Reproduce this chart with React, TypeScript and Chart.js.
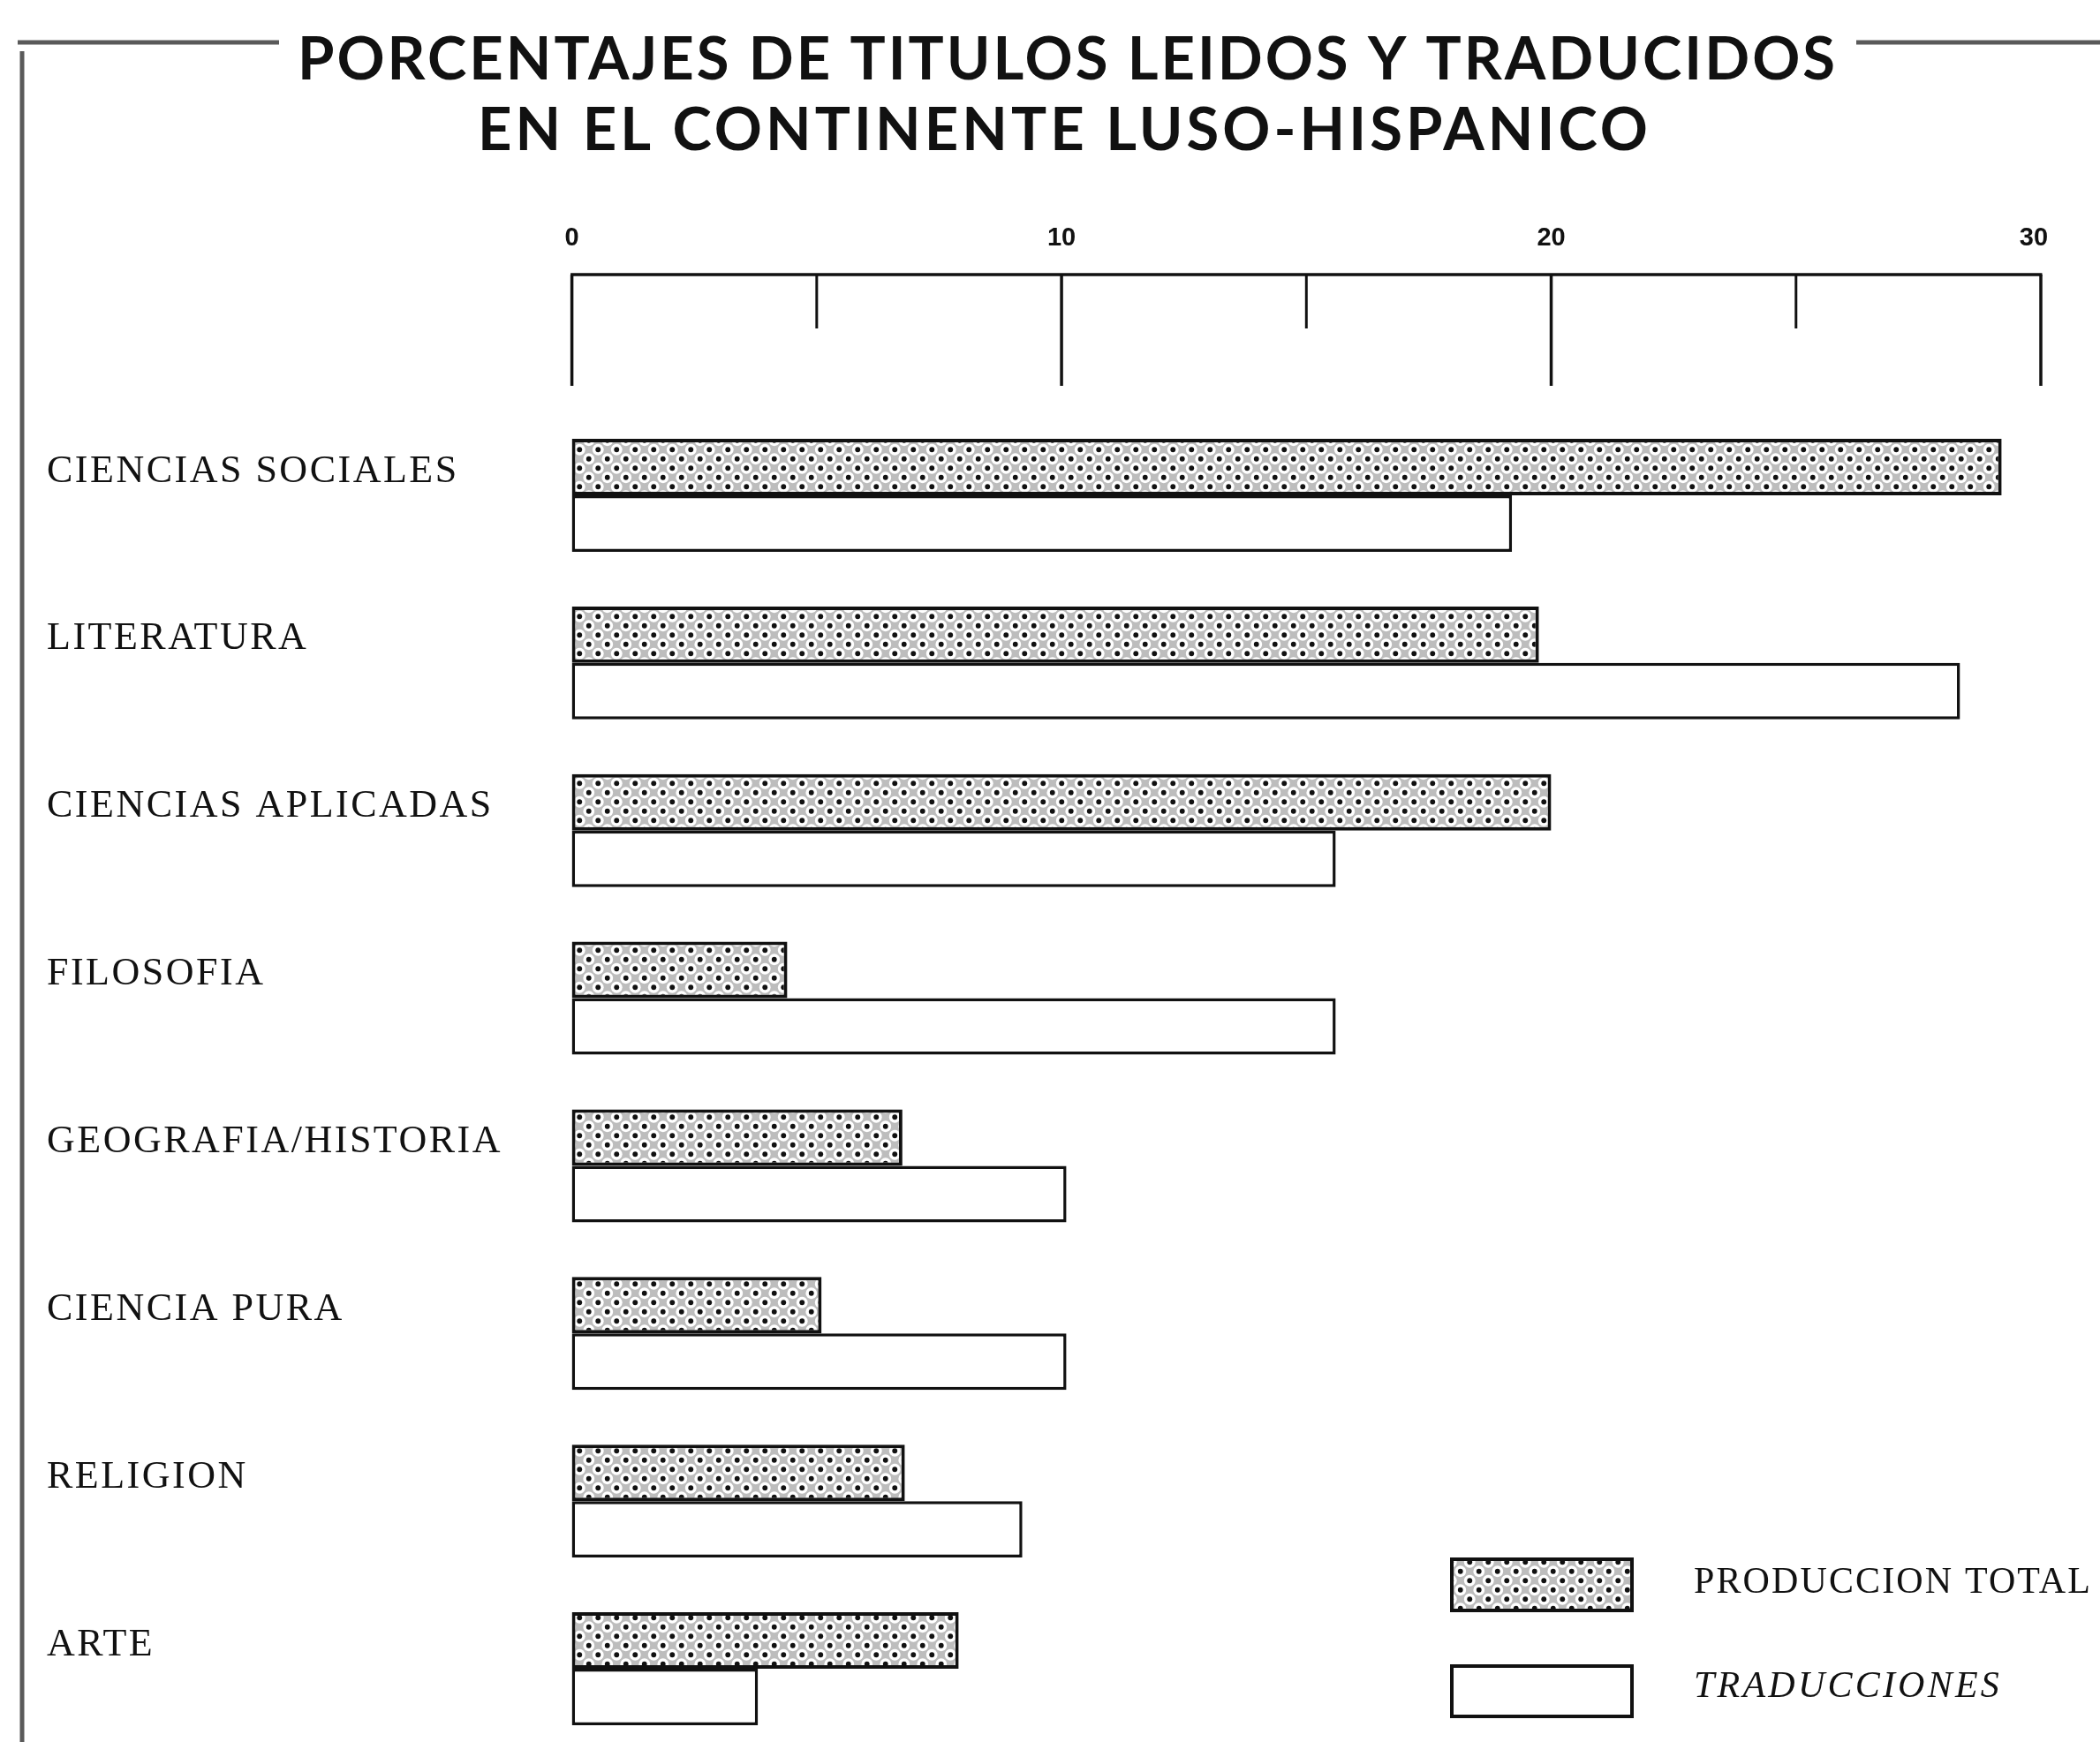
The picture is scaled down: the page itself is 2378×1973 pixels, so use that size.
import React, { useEffect, useRef } from 'react';
import { Chart, registerables } from 'chart.js';

Chart.register(...registerables);

const W = 2378;
const H = 1973;

const categories = [
  'CIENCIAS SOCIALES',
  'LITERATURA',
  'CIENCIAS APLICADAS',
  'FILOSOFIA',
  'GEOGRAFIA/HISTORIA',
  'CIENCIA PURA',
  'RELIGION',
  'ARTE',
];
const produccionTotal = [29.2, 19.75, 20.0, 4.4, 6.75, 5.1, 6.8, 7.9];
const traducciones = [19.2, 28.35, 15.6, 15.6, 10.1, 10.1, 9.2, 3.8];
const seriesLabels = ['PRODUCCION TOTAL', 'TRADUCCIONES'];
const majorTicks = [0, 10, 20, 30];
const minorTicks = [5, 15, 25];
const titleLines = [
  'PORCENTAJES DE TITULOS LEIDOS Y TRADUCIDOS',
  'EN EL CONTINENTE LUSO-HISPANICO',
];

function makeDotPattern(): CanvasPattern | string {
  const tile = document.createElement('canvas');
  tile.width = 21;
  tile.height = 21;
  const t = tile.getContext('2d');
  if (!t) return '#ccc';
  t.fillStyle = '#bdbdbd';
  t.fillRect(0, 0, 21, 21);
  const dots = [
    [5.25, 5.25],
    [15.75, 15.75],
    [15.75, -5.25],
    [-5.25, 15.75],
    [26.25, 5.25],
    [5.25, 26.25],
    [26.25, 26.25],
    [-5.25, -5.25],
    [15.75, 36.75],
  ];
  // white holes (offset grid) around the dots
  const holes = [
    [5.25, 5.25],
    [15.75, 15.75],
    [-5.25, -5.25],
    [26.25, 26.25],
    [26.25, 5.25],
    [5.25, 26.25],
    [-5.25, 15.75],
    [15.75, -5.25],
  ];
  t.fillStyle = '#ffffff';
  for (const [dx, dy] of holes) {
    t.beginPath();
    t.arc(dx, dy, 6.4, 0, Math.PI * 2);
    t.fill();
  }
  t.fillStyle = '#111111';
  for (const [dx, dy] of dots) {
    t.beginPath();
    t.arc(dx, dy, 2.9, 0, Math.PI * 2);
    t.fill();
  }
  const p = t.createPattern(tile, 'repeat');
  return p || '#ccc';
}

function fitText(ctx: CanvasRenderingContext2D, text: string, font: string, target: number) {
  ctx.font = font;
  (ctx as any).letterSpacing = '0px';
  const w0 = ctx.measureText(text).width;
  const ls = (target - w0) / Math.max(1, text.length);
  (ctx as any).letterSpacing = ls + 'px';
}

const decorPlugin = {
  id: 'decor',
  beforeDraw(chart: any) {
    const ctx = chart.ctx as CanvasRenderingContext2D;
    ctx.save();
    ctx.fillStyle = '#ffffff';
    ctx.fillRect(0, 0, chart.width, chart.height);
    ctx.restore();
    (ctx as any).letterSpacing = '2.5px';
  },
  afterDraw(chart: any) {
    const ctx = chart.ctx as CanvasRenderingContext2D;
    (ctx as any).letterSpacing = '0px';
    const xs = chart.scales.x;
    const axisY = 311;
    ctx.save();
    ctx.strokeStyle = '#111';
    ctx.lineWidth = 3.5;
    ctx.lineCap = 'butt';
    // axis line
    ctx.beginPath();
    ctx.moveTo(xs.getPixelForValue(majorTicks[0]) - 1.5, axisY);
    ctx.lineTo(xs.getPixelForValue(majorTicks[majorTicks.length - 1]) + 1.5, axisY);
    ctx.stroke();
    for (const v of majorTicks) {
      const px = xs.getPixelForValue(v);
      ctx.beginPath();
      ctx.moveTo(px, axisY);
      ctx.lineTo(px, 437);
      ctx.stroke();
    }
    ctx.lineWidth = 3;
    for (const v of minorTicks) {
      const px = xs.getPixelForValue(v);
      ctx.beginPath();
      ctx.moveTo(px, axisY);
      ctx.lineTo(px, 372);
      ctx.stroke();
    }
    ctx.fillStyle = '#111';
    ctx.font = 'bold 29px "Liberation Sans Narrow", "Liberation Sans"';
    ctx.textAlign = 'center';
    ctx.textBaseline = 'middle';
    for (const v of majorTicks) {
      ctx.fillText(String(v), xs.getPixelForValue(v) - (v === 30 ? 8 : 0), 270);
    }

    // title
    ctx.textAlign = 'left';
    ctx.textBaseline = 'alphabetic';
    const titleFont = 'bold 67px Lato';
    const t1L = 337, t1R = 2081, t2L = 541, t2R = 1870;
    fitText(ctx, titleLines[0], titleFont, t1R - t1L);
    ctx.fillText(titleLines[0], t1L, 90);
    fitText(ctx, titleLines[1], titleFont, t2R - t2L);
    ctx.fillText(titleLines[1], t2L, 170);
    (ctx as any).letterSpacing = '0px';

    // frame lines
    ctx.strokeStyle = '#5a5a5a';
    ctx.lineWidth = 5;
    ctx.beginPath();
    ctx.moveTo(20, 48);
    ctx.lineTo(316, 48);
    ctx.moveTo(2102, 48);
    ctx.lineTo(W, 48);
    ctx.moveTo(25, 58);
    ctx.lineTo(25, H);
    ctx.stroke();

    // legend
    const ds = chart.data.datasets;
    const boxes = [
      { y0: 1764, y1: 1826, ty: 1793, font: '42px "Liberation Serif"', w: 451 },
      { y0: 1885, y1: 1946, ty: 1911, font: 'italic 42px "Liberation Serif"', w: 349 },
    ];
    boxes.forEach((b, i) => {
      ctx.fillStyle = ds[i].backgroundColor;
      ctx.fillRect(1642, b.y0, 208, b.y1 - b.y0);
      ctx.strokeStyle = '#111';
      ctx.lineWidth = 4;
      ctx.strokeRect(1644, b.y0 + 2, 204, b.y1 - b.y0 - 4);
      ctx.fillStyle = '#111';
      ctx.textAlign = 'left';
      ctx.textBaseline = 'middle';
      fitText(ctx, ds[i].label, b.font, b.w);
      ctx.fillText(ds[i].label, 1918, b.ty);
    });
    (ctx as any).letterSpacing = '0px';
    ctx.restore();
  },
};

export default function App() {
  const canvasRef = useRef<HTMLCanvasElement | null>(null);

  useEffect(() => {
    const canvas = canvasRef.current;
    if (!canvas) return;
    const pattern = makeDotPattern();
    const chart = new Chart(canvas, {
      type: 'bar',
      data: {
        labels: categories,
        datasets: [
          {
            label: seriesLabels[0],
            data: produccionTotal,
            backgroundColor: pattern as any,
            borderColor: '#111',
            borderWidth: 4,
            borderSkipped: false,
            clip: false as any,
          },
          {
            label: seriesLabels[1],
            data: traducciones,
            backgroundColor: '#ffffff',
            borderColor: '#111',
            borderWidth: 3.5,
            borderSkipped: false,
            clip: false as any,
          },
        ],
      },
      options: {
        indexAxis: 'y',
        responsive: false,
        maintainAspectRatio: false,
        animation: false,
        devicePixelRatio: 1,
        categoryPercentage: 0.674,
        barPercentage: 1,
        layout: {
          padding: { left: 53, right: 67, top: 561, bottom: 83 },
        },
        plugins: {
          legend: { display: false },
          title: { display: false },
          tooltip: { enabled: false },
        },
        scales: {
          x: {
            type: 'linear',
            min: 0,
            max: 30,
            display: false,
          },
          y: {
            type: 'category',
            offset: false,
            grid: { display: false },
            border: { display: false },
            afterFit: (s: any) => {
              s.width = 594.6;
            },
            ticks: {
              crossAlign: 'far',
              labelOffset: -27,
              color: '#111',
              font: { family: '"Liberation Serif"', size: 44 },
              autoSkip: false,
            },
          },
        },
      } as any,
      plugins: [decorPlugin],
    });
    return () => chart.destroy();
  }, []);

  return (
    <div style={{ position: 'absolute', left: 0, top: 0, width: W, height: H, background: '#fff' }}>
      <canvas ref={canvasRef} width={W} height={H} style={{ width: W, height: H, display: 'block' }} />
    </div>
  );
}
